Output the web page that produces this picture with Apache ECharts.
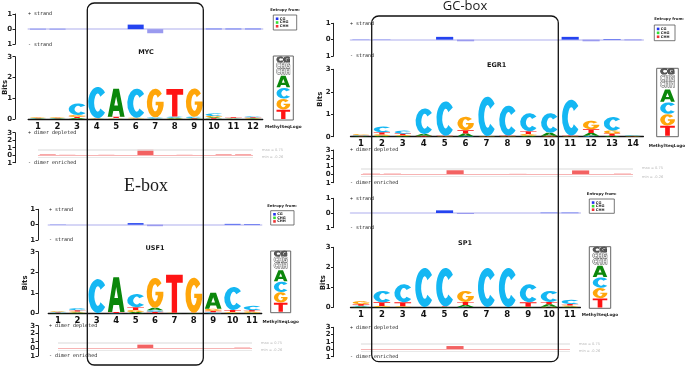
<!DOCTYPE html>
<html>
<head>
<meta charset="utf-8">
<script src="https://cdn.jsdelivr.net/npm/echarts@6/dist/echarts.min.js"></script>
<style>
html, body { margin: 0; padding: 0; background: #fff; }
#chart { width: 685px; height: 367px; }
</style>
</head>
<body>
<div id="chart"></div>
<script>
// ---- data (bits per letter per position) ----
const mycPos = ['1','2','3','4','5','6','7','8','9','10','11','12'];
const mycA = [0.02, 0.02, 0.05, 0.01, 1.35, 0.01, 0.02, 0.04, 0.02, 0.05, 0.01, 0.02];
const mycC = [0.02, 0.02, 0.56, 1.50, 0.02, 1.40, 0.05, 0.06, 0.06, 0.12, 0.02, 0.05];
const mycG = [0.03, 0.03, 0.08, 0.01, 0.03, 0.03, 1.38, 0.02, 1.36, 0.06, 0.02, 0.03];
const mycT = [0.02, 0.02, 0.06, 0.02, 0.06, 0.02, 0.01, 1.33, 0.03, 0.04, 0.03, 0.03];
const mycPlus  = [0.02, 0.02, 0, 0, 0, 0.30, 0, 0, 0, 0.03, 0.03, 0.03];
const mycMinus = [-0.03, -0.03, 0, 0, 0, 0, -0.27, 0, 0, -0.03, -0.03, -0.03];
const mycDimer = [0.1, 0.05, 0, 0.05, 0, 0.75, 0, 0.05, 0, 0.1, 0.1];

const usfPos = ['1','2','3','4','5','6','7','8','9','10','11'];
const usfA = [0.02, 0.04, 0.005, 1.70, 0.06, 0.12, 0.01, 0.01, 0.78, 0.02, 0.03];
const usfC = [0.03, 0.10, 1.65, 0.01, 0.64, 0.08, 0.005, 0.01, 0.05, 1.12, 0.20];
const usfG = [0.03, 0.05, 0.005, 0.01, 0.10, 1.45, 0.01, 1.70, 0.10, 0.04, 0.06];
const usfT = [0.02, 0.06, 0.005, 0.04, 0.14, 0.07, 1.85, 0.01, 0.07, 0.10, 0.07];
const usfPlus  = [0.01, 0, 0, 0, 0.10, 0, 0, 0, 0, 0.05, 0.04];
const usfMinus = [-0.01, 0, 0, 0, 0, -0.10, 0, 0, 0, -0.01, -0.02];
const usfDimer = [0.03, 0, 0, 0, 0.5, 0, 0, 0, 0, 0.1];

const egrPos = ['1','2','3','4','5','6','7','8','9','10','11','12','13','14'];
const egrA = [0.02, 0.04, 0.03, 0.08, 0.01, 0.12, 0.01, 0.01, 0.04, 0.14, 0.01, 0.12, 0.04, 0.01];
const egrC = [0.03, 0.25, 0.13, 1.14, 1.53, 0.02, 1.75, 1.33, 0.80, 0.86, 1.60, 0.04, 0.60, 0.03];
const egrG = [0.04, 0.06, 0.04, 0.01, 0.01, 0.60, 0.01, 0.01, 0.08, 0.02, 0.01, 0.38, 0.14, 0.02];
const egrT = [0.02, 0.10, 0.07, 0.03, 0.02, 0.15, 0.01, 0.03, 0.12, 0.02, 0.03, 0.17, 0.10, 0.01];
const egrPlus  = [0.01, 0.01, 0, 0, 0.17, 0, 0, 0, 0, 0, 0.17, 0, 0.04, 0.01];
const egrMinus = [-0.01, -0.01, 0, 0, 0, -0.10, 0, 0, 0, 0, 0, -0.10, -0.02, -0.04];
const egrDimer = [0.1, 0.1, 0, 0, 0.52, 0, 0, 0.08, 0, 0, 0.5, 0, 0.1];

const sp1Pos = ['1','2','3','4','5','6','7','8','9','10','11'];
const sp1A = [0.04, 0.02, 0.02, 0.005, 0.01, 0.10, 0.005, 0.005, 0.01, 0.12, 0.04];
const sp1C = [0.04, 0.57, 0.90, 1.95, 1.93, 0.02, 1.95, 1.95, 0.90, 0.55, 0.20];
const sp1G = [0.15, 0.05, 0.03, 0.005, 0.01, 0.55, 0.005, 0.005, 0.02, 0.03, 0.05];
const sp1T = [0.08, 0.18, 0.20, 0.005, 0.02, 0.15, 0.005, 0.005, 0.22, 0.12, 0.08];
const sp1Plus  = [0, 0, 0, 0, 0.18, 0, 0, 0, 0, 0.02, 0.02];
const sp1Minus = [0, 0, 0, 0, 0, -0.07, 0, 0, 0, -0.02, -0.02];
const sp1Dimer = [0, 0, 0, 0, 0.45, 0, 0, 0, 0, 0.05];

const dimMax = 0.75;
const dimMin = -0.26;

const panels = [
    { name: 'MYC', pos: mycPos, A: mycA, C: mycC, G: mycG, T: mycT, plus: mycPlus, minus: mycMinus, dimer: mycDimer },
    { name: 'USF1', pos: usfPos, A: usfA, C: usfC, G: usfG, T: usfT, plus: usfPlus, minus: usfMinus, dimer: usfDimer },
    { name: 'EGR1', pos: egrPos, A: egrA, C: egrC, G: egrG, T: egrT, plus: egrPlus, minus: egrMinus, dimer: egrDimer },
    { name: 'SP1', pos: sp1Pos, A: sp1A, C: sp1C, G: sp1G, T: sp1T, plus: sp1Plus, minus: sp1Minus, dimer: sp1Dimer }
];

// ---- layout (pixels) ----
const layouts = [
    { left: 28.2, width: 234.5, axisX: 15, st: [14, 30.3], lg: [56.7, 62.3], dm: [132.7, 30], fill: 0.86, tx: 28,
      title: [146, 52.7], bits: [5.5, 87.5], entT: [285, 10], ent: [273.3, 15, 23.4, 15], ml: [273.3, 56, 20, 64], mlT: [283.3, 127.3] },
    { left: 48.3, width: 213.4, axisX: 38, st: [209.3, 30.7], lg: [251.7, 61.6], dm: [325.7, 30.3], fill: 0.86, tx: 49,
      title: [155, 248], bits: [25, 283], entT: [282, 205.7], ent: [270.7, 210.7, 23.3, 14.3], ml: [270.7, 251, 20, 61.7], mlT: [280.7, 321.7] },
    { left: 350.5, width: 292.9, axisX: 333.5, st: [23.3, 32.7], lg: [69.3, 67.4], dm: [150, 32.7], fill: 0.78, tx: 350,
      title: [496.7, 65.3], bits: [320, 99.3], entT: [669, 19.3], ent: [654.3, 25, 20.7, 15.7], ml: [656.7, 68.3, 21.6, 68.4], mlT: [667, 145.7] },
    { left: 350.5, width: 229.9, axisX: 333.5, st: [198.3, 29.4], lg: [247.3, 60], dm: [327.3, 29.4], fill: 0.8, tx: 350,
      title: [465, 243.3], bits: [323.3, 282.7], entT: [601.7, 194.3], ent: [589.3, 199, 25, 14.3], ml: [589.3, 246.7, 21.4, 61.6], mlT: [600, 315] }
];

const LETTERS = ['A', 'C', 'G', 'T'];
const COLORS = { A: '#0b870b', C: '#14b7f3', G: '#ffa60a', T: '#ff1414' };
const GLYPHS = {
    A: 'M0 100 L33 0 L67 0 L100 100 L74 100 L67 80 L33 80 L26 100 Z M39 60 L61 60 L50 28 Z',
    C: 'M88.3 17.9 A50 50 0 1 0 88.3 82.1 L63.8 68.6 A18 29 0 1 1 63.8 31.4 Z',
    G: 'M88.3 17.9 A50 50 0 1 0 99 60 L99 46 L52 46 L52 58 L66 58 L66 63.3 A18 29 0 1 1 63.8 31.4 Z',
    T: 'M0 0 L100 0 L100 21 L66 21 L66 100 L34 100 L34 21 L0 21 Z'
};
const FONT = 'DejaVu Sans';

function stackLetters(p) {
    const out = [];
    p.pos.forEach((_, i) => {
        const col = LETTERS.map((L, j) => ({ j, h: p[L][i] })).sort((a, b) => a.h - b.h);
        let y = 0;
        col.forEach(c => {
            if (c.h > 0) out.push([i, y, y + c.h, c.j]);
            y += c.h;
        });
    });
    return out;
}

function letterRenderer(fill) {
    return function (params, api) {
        const i = api.value(0);
        const p0 = api.coord([i, api.value(1)]);
        const p1 = api.coord([i, api.value(2)]);
        const bw = api.size([1, 0])[0] * fill;
        const h = p0[1] - p1[1];
        if (h < 0.15) return;
        const L = LETTERS[api.value(3)];
        return {
            type: 'path',
            shape: { pathData: GLYPHS[L], x: p0[0] - bw / 2, y: p1[1], width: bw, height: h, layout: 'cover' },
            style: { fill: COLORS[L] }
        };
    };
}

function yAxisOf(g, L, min, max) {
    return {
        gridIndex: g, type: 'value', min: min, max: max, interval: 1,
        offset: L.left - L.axisX,
        axisLine: { show: true, lineStyle: { color: '#222', width: 1 } },
        axisTick: { show: true, length: 2.5, lineStyle: { color: '#222', width: 1 } },
        axisLabel: { formatter: v => String(Math.abs(v)), fontSize: 7, fontWeight: 'bold', color: '#222', margin: 3, fontFamily: FONT },
        splitLine: { show: false }
    };
}

const grids = [], xAxes = [], yAxes = [], series = [], graphics = [];

function txt(x, y, text, font, align, extra) {
    return Object.assign({
        type: 'text', x: x, y: y, z: 50,
        style: { text: text, font: font, fill: '#1a1a1a', align: align, textAlign: align, verticalAlign: 'middle', textVerticalAlign: 'middle' }
    }, extra || {});
}

panels.forEach((p, k) => {
    const L = layouts[k];
    const N = p.pos.length;
    const bw = L.width / N * 0.82;
    const g0 = k * 3, g1 = k * 3 + 1, g2 = k * 3 + 2;
    grids.push(
        { left: L.left, width: L.width, top: L.st[0], height: L.st[1], containLabel: false, outerBoundsMode: 'none' },
        { left: L.left, width: L.width, top: L.lg[0], height: L.lg[1], containLabel: false, outerBoundsMode: 'none' },
        { left: L.left, width: L.width, top: L.dm[0], height: L.dm[1], containLabel: false, outerBoundsMode: 'none' }
    );
    xAxes.push(
        { gridIndex: g0, type: 'value', min: 0.5, max: N + 0.5,
          axisLine: { onZero: true, lineStyle: { color: '#c9c9f3', width: 1.5 } },
          axisTick: { show: false }, axisLabel: { show: false }, splitLine: { show: false } },
        { gridIndex: g1, type: 'category', data: p.pos,
          axisLine: { lineStyle: { color: '#111', width: 1.3 } }, axisTick: { show: false },
          axisLabel: { fontSize: 8.5, fontWeight: 'bold', color: '#111', margin: 3, fontFamily: FONT } },
        { gridIndex: g2, type: 'value', min: 0.5, max: N + 0.5, show: false }
    );
    yAxes.push(yAxisOf(g0, L, -1, 1), yAxisOf(g1, L, 0, 3), yAxisOf(g2, L, -1, 3));

    series.push(
        { type: 'bar', xAxisIndex: g0, yAxisIndex: g0, barWidth: bw, barGap: '-100%', silent: true,
          itemStyle: { color: '#2443f0' }, data: p.plus.map((v, i) => [i + 1, v]) },
        { type: 'bar', xAxisIndex: g0, yAxisIndex: g0, barWidth: bw, barGap: '-100%', silent: true,
          itemStyle: { color: '#9a9aef' }, data: p.minus.map((v, i) => [i + 1, v]) },
        { type: 'custom', xAxisIndex: g1, yAxisIndex: g1, silent: true,
          encode: { x: 0, y: [1, 2] }, data: stackLetters(p), renderItem: letterRenderer(L.fill) },
        { type: 'bar', xAxisIndex: g2, yAxisIndex: g2, barWidth: bw, silent: true,
          itemStyle: { color: '#f36262' }, data: p.dimer.map((v, i) => [i + 1.5, v]),
          markLine: {
              silent: true, symbol: 'none', animation: false,
              label: { position: 'end', fontSize: 3.6, color: '#b8b8b8', distance: 9, fontFamily: FONT },
              data: [
                  [{ coord: [1, dimMax], lineStyle: { color: '#e6e6e6', width: 1.6, type: 'solid' }, label: { formatter: 'max = ' + dimMax } }, { coord: [N, dimMax] }],
                  [{ coord: [1, 0], lineStyle: { color: '#f7b4b4', width: 1, type: 'solid' }, label: { show: false } }, { coord: [N, 0] }],
                  [{ coord: [1, dimMin], lineStyle: { color: '#e8e8e8', width: 1.2, type: 'solid' }, label: { formatter: 'min = ' + dimMin } }, { coord: [N, dimMin] }]
              ]
          } }
    );

    // panel texts
    const mono = '5px "DejaVu Sans Mono"';
    graphics.push(
        txt(L.tx, L.st[0], '+ strand', mono, 'left'),
        txt(L.tx, L.st[0] + L.st[1], '- strand', mono, 'left'),
        txt(L.tx, L.dm[0], '+ dimer depleted', mono, 'left'),
        txt(L.tx, L.dm[0] + L.dm[1], '- dimer enriched', mono, 'left'),
        txt(L.title[0], L.title[1], p.name, 'bold 6.5px ' + FONT, 'center'),
        txt(L.bits[0], L.bits[1], 'Bits', 'bold 7px ' + FONT, 'center', { rotation: Math.PI / 2 }),
        txt(L.entT[0], L.entT[1], 'Entropy from:', 'bold 3.8px ' + FONT, 'center'),
        txt(L.mlT[0], L.mlT[1], 'MethylSeqLogo', 'bold 4.2px ' + FONT, 'center')
    );
    // entropy legend
    const e = L.ent;
    graphics.push({ type: 'rect', z: 50, shape: { x: e[0], y: e[1], width: e[2], height: e[3] }, style: { fill: '#fff', stroke: '#555', lineWidth: 0.8 } });
    const entItems = [['CG', '#2233ee'], ['CHG', '#33dd33'], ['CHH', '#ee3333']];
    entItems.forEach((it, j) => {
        const cy = e[1] + e[3] * (0.25 + 0.25 * j);
        graphics.push(
            { type: 'rect', z: 51, shape: { x: e[0] + 2.5, y: cy - 1.3, width: 2.6, height: 2.6 }, style: { fill: it[1] } },
            txt(e[0] + 6.5, cy, it[0], 'bold 3.6px ' + FONT, 'left', { z: 51 })
        );
    });
});

// methylation logo legends (custom series, pixel coordinates)
series.push({
    type: 'custom', coordinateSystem: 'none', silent: true, z: 20,
    data: layouts.map(L => L.ml),
    renderItem: function (params, api) {
        const x = api.value(0), y = api.value(1), w = api.value(2), h = api.value(3);
        const children = [{ type: 'rect', shape: { x: x, y: y, width: w, height: h }, style: { fill: '#fff', stroke: '#666', lineWidth: 1 } }];
        const ix = x + w * 0.16, iw = w * 0.68;
        const hollow = [['CG', 0.015, 0.105], ['CHG', 0.105, 0.2], ['CHH', 0.2, 0.295]];
        hollow.forEach(r => {
            const cy = y + h * (r[1] + r[2]) / 2;
            const fs = h * (r[2] - r[1]) * 1.2;
            children.push({ type: 'text', x: x + w / 2, y: cy, scaleX: iw / (fs * 0.78 * r[0].length), scaleY: 1,
                style: { text: r[0], font: 'bold ' + fs + 'px ' + FONT, fill: r[0] === 'CG' ? '#555' : '#e8e8e8', stroke: '#444', lineWidth: 0.8,
                         align: 'center', verticalAlign: 'middle' } });
        });
        const rows = [['A', 0.31, 0.49], ['C', 0.5, 0.665], ['G', 0.67, 0.835], ['T', 0.84, 0.985]];
        rows.forEach(r => {
            children.push({ type: 'path', shape: { pathData: GLYPHS[r[0]], x: ix, y: y + h * r[1], width: iw, height: h * (r[2] - r[1]), layout: 'cover' },
                style: { fill: COLORS[r[0]] } });
        });
        return { type: 'group', children: children };
    }
});

// boxes and headings
graphics.push(
    { type: 'rect', z: 100, shape: { x: 87.3, y: 3, width: 116, height: 362, r: 7 }, style: { fill: 'none', stroke: '#111', lineWidth: 1.3 } },
    { type: 'rect', z: 100, shape: { x: 371.7, y: 16, width: 186.6, height: 345.7, r: 7 }, style: { fill: 'none', stroke: '#111', lineWidth: 1.3 } },
    txt(146, 186, 'E-box', '18px "Liberation Serif"', 'center', { z: 101 }),
    txt(465, 6.5, 'GC-box', '13px "Open Sans"', 'center', { z: 101 })
);

const chart = echarts.init(document.getElementById('chart'));
chart.setOption({
    animation: false,
    backgroundColor: '#fff',
    grid: grids,
    xAxis: xAxes,
    yAxis: yAxes,
    series: series,
    graphic: { elements: graphics }
});
</script>
</body>
</html>
